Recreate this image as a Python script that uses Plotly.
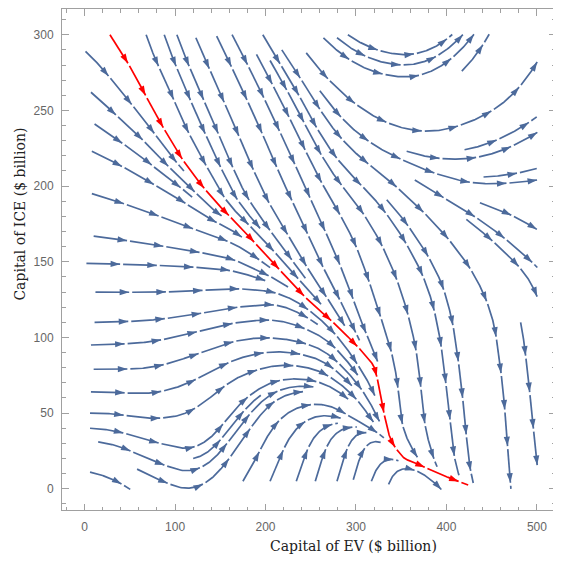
import numpy as np
import plotly.graph_objects as go

# ---------------- data ----------------
EV_GRID = [0, 50, 100, 150, 200, 250, 300, 350, 400, 450, 500]
ICE_GRID = [0, 25, 50, 75, 100, 125, 150, 175, 200, 225, 250, 275, 300]
# flow direction (degrees, in data units) at each grid node, one row per ICE_GRID value
FLOW_DIR = [
    [-8, -22, -12, 35, 54, 68, 68, 60, -40, -84, -80],      # ICE = 0
    [-2, -15, -10, 35, 52, 57, 60, -35, -78, -84, -80],     # 25
    [1, -5, 8, 36, 35, 8, -30, -82, -79, -84, -80],         # 50
    [0, 0, 12, 20, 10, -8, -38, -80, -79, -78, -80],        # 75
    [1, 2, 8, 10, 0, -12, -50, -68, -76, -76, -78],         # 100
    [0, 0, 2, 5, 2, -30, -62, -63, -65, -55, -60],          # 125
    [-1, -1, -2, -5, -25, -50, -60, -52, -45, -35, -28],    # 150
    [-6, -8, -12, -16, -40, -55, -46, -40, -30, -22, -19],  # 175
    [-10, -15, -22, -50, -53, -53, -31, -27, -14, 0, 3],    # 200
    [-15, -22, -43, -55, -55, -50, -28, -11, 3, 12, 18],    # 225
    [-23, -34, -55, -54, -52, -48, -25, -8, 12, 20, 25],    # 250
    [-26, -45, -55, -53, -49, -39, -18, -1, 23, 45, 40],    # 275
    [-29, -62, -60, -50, -45, -35, -20, -3, 25, 48, 60],    # 300
]

# starting points of the blue stream lines
SEED_EV = [1, 7, 11, 8, 8, 10, 2, 12, 11, 7, 10, 7, 6, 6, 15, 6, 58, 120,
           175, 205, 234, 255, 279, 297, 317, 336,
           68, 88, 102, 123, 146, 163, 197, 190, 205, 218, 238, 245, 264, 279, 291,
           260, 293, 315, 334, 356, 365, 382, 385, 417, 420, 422, 437, 441,
           448, 470, 482]
SEED_ICE = [289, 262, 241, 223, 195, 167, 149, 130, 110, 95, 79, 64, 50, 40, 31, 11, 13, 20,
            5, 5, 5, 5, 5, 6, 5, 3,
            300, 300, 300, 298, 299, 300, 300, 287, 283, 290, 272, 288, 298, 298, 300,
            263, 222, 228, 191, 223, 204, 180, 239, 276, 224, 178, 189, 206,
            165, 152, 110]

# highlighted trajectory (red)
RED_EV = [28, 52, 80, 109, 140, 175, 209, 245, 280, 315, 323, 332, 339, 352, 363, 396, 424]
RED_ICE = [300, 277, 246, 217, 193, 171, 149, 126, 107, 85, 74, 47, 32, 21, 17.7, 9, 2.5]

X_TICKS = [0, 100, 200, 300, 400, 500]
Y_TICKS = [0, 50, 100, 150, 200, 250, 300]

# ---------------- layout geometry ----------------
# the page body adds an 8 px offset, so the figure is drawn 553 px wide
W = H = 553
ML, MR, MT, MB = 54, 6, 1, 51
X_RANGE = [-25, 520]
Y_RANGE = [-14, 317]
SX = (W - ML - MR) / (X_RANGE[1] - X_RANGE[0])
SY = (H - MT - MB) / (Y_RANGE[1] - Y_RANGE[0])

BLUE = "rgb(76,106,155)"
RED = "rgb(255,0,0)"

EVg = np.array(EV_GRID, float)
ICg = np.array(ICE_GRID, float)
ANG = np.radians(np.array(FLOW_DIR, float))
CC, SS = np.cos(ANG), np.sin(ANG)


def direction(x, y):
    i = int(np.clip(np.searchsorted(EVg, x) - 1, 0, len(EVg) - 2))
    j = int(np.clip(np.searchsorted(ICg, y) - 1, 0, len(ICg) - 2))
    tx = min(max((x - EVg[i]) / (EVg[i + 1] - EVg[i]), 0), 1)
    ty = min(max((y - ICg[j]) / (ICg[j + 1] - ICg[j]), 0), 1)
    w = [(1 - tx) * (1 - ty), tx * (1 - ty), (1 - tx) * ty, tx * ty]
    c = w[0] * CC[j, i] + w[1] * CC[j, i + 1] + w[2] * CC[j + 1, i] + w[3] * CC[j + 1, i + 1]
    s = w[0] * SS[j, i] + w[1] * SS[j, i + 1] + w[2] * SS[j + 1, i] + w[3] * SS[j + 1, i + 1]
    vx, vy = c * SX, s * SY
    n = np.hypot(vx, vy) + 1e-12
    return vx / n, vy / n


D = 5.5
cells = {}


def near(px, py):
    ci, cj = int(px // D), int(py // D)
    for a in (ci - 1, ci, ci + 1):
        for b in (cj - 1, cj, cj + 1):
            for (qx, qy) in cells.get((a, b), ()):
                if (qx - px) ** 2 + (qy - py) ** 2 < D * D:
                    return True
    return False


def add(path):
    for (px, py) in path:
        cells.setdefault((int(px // D), int(py // D)), []).append((px, py))


def trace(x0, y0, max_len=1200):
    x0 = min(max(x0, 0), 500)
    y0 = min(max(y0, 0), 300)
    px, py = x0 * SX, y0 * SY
    path = [(px, py)]
    if near(px, py):
        return path
    for _ in range(max_len):
        d1 = direction(px / SX, py / SY)
        mx, my = px + 0.5 * d1[0], py + 0.5 * d1[1]
        d2 = direction(mx / SX, my / SY)
        px += d2[0]
        py += d2[1]
        x, y = px / SX, py / SY
        if x < -0.5 or x > 500.5 or y < -0.5 or y > 300.5:
            break
        if near(px, py):
            break
        path.append((px, py))
    return path


SEG, GAP = 36.7, 3.0


def pieces(path):
    p = np.array(path)
    if len(p) < 3:
        return [], [], [], [], []
    ds = np.hypot(np.diff(p[:, 0]), np.diff(p[:, 1]))
    s = np.concatenate([[0], np.cumsum(ds)])
    total = s[-1]
    lx, ly, ax, ay, aang = [], [], [], [], []
    k = 0
    while k * SEG < total:
        a = k * SEG
        full_end = (k + 1) * SEG - GAP
        b = min(full_end, total)
        if b - a < 1.5:
            break
        inside = (s > a) & (s < b)
        ss = np.concatenate([[a], s[inside], [b]])
        xs = np.interp(ss, s, p[:, 0])
        ys = np.interp(ss, s, p[:, 1])
        lx += list(xs / SX) + [None]
        ly += list(ys / SY) + [None]
        if full_end <= total or (b - a) > 0.6 * SEG:
            bx, by = np.interp(b, s, p[:, 0]), np.interp(b, s, p[:, 1])
            cx, cy = np.interp(b - 3, s, p[:, 0]), np.interp(b - 3, s, p[:, 1])
            ax.append(bx / SX)
            ay.append(by / SY)
            aang.append(np.degrees(np.arctan2(bx - cx, by - cy)))
        k += 1
    return lx, ly, ax, ay, aang


# red trajectory, densified (Catmull-Rom through the read points) in pixel space
rp = np.column_stack([np.array(RED_EV) * SX, np.array(RED_ICE) * SY])
ext = np.vstack([2 * rp[0] - rp[1], rp, 2 * rp[-1] - rp[-2]])
red_path = []
for i in range(1, len(ext) - 2):
    p0, p1, p2, p3 = ext[i - 1], ext[i], ext[i + 1], ext[i + 2]
    for t in np.linspace(0, 1, 25, endpoint=False):
        t2, t3 = t * t, t * t * t
        q = 0.5 * ((2 * p1) + (-p0 + p2) * t + (2 * p0 - 5 * p1 + 4 * p2 - p3) * t2 + (-p0 + 3 * p1 - 3 * p2 + p3) * t3)
        red_path.append((q[0], q[1]))
red_path.append((rp[-1][0], rp[-1][1]))
add(red_path)

BLX, BLY, BAX, BAY, BAA = [], [], [], [], []
for x0, y0 in zip(SEED_EV, SEED_ICE):
    path = trace(x0, y0)
    if len(path) < 10:
        continue
    add(path)
    lx, ly, ax, ay, aa = pieces(path)
    BLX += lx
    BLY += ly
    BAX += ax
    BAY += ay
    BAA += aa

RLX, RLY, RAX, RAY, RAA = pieces(red_path)

fig = go.Figure()
fig.add_trace(go.Scatter(x=BLX, y=BLY, mode="lines", line=dict(color=BLUE, width=1.7),
                         hoverinfo="skip", showlegend=False))
fig.add_trace(go.Scatter(x=BAX, y=BAY, mode="markers",
                         marker=dict(symbol="arrow", size=10, angle=BAA, color=BLUE, line=dict(width=0)),
                         hoverinfo="skip", showlegend=False))
fig.add_trace(go.Scatter(x=RLX, y=RLY, mode="lines", line=dict(color=RED, width=1.7),
                         hoverinfo="skip", showlegend=False))
fig.add_trace(go.Scatter(x=RAX, y=RAY, mode="markers",
                         marker=dict(symbol="arrow", size=10, angle=RAA, color=RED, line=dict(width=0)),
                         hoverinfo="skip", showlegend=False))

FRAME = "#a0a0a0"
axis_common = dict(showline=True, linecolor=FRAME, linewidth=1, mirror="allticks",
                   ticks="inside", tickcolor=FRAME, tickwidth=1, showgrid=False, zeroline=False,
                   automargin=False,
                   tickfont=dict(family="Liberation Sans", size=12, color="#666666"))
fig.update_xaxes(range=X_RANGE, tickvals=X_TICKS, ticklen=6.5, ticklabelstandoff=6,
                 minor=dict(ticks="inside", ticklen=3.5, dtick=20, tick0=0, tickcolor=FRAME, showgrid=False),
                 **axis_common)
fig.update_yaxes(range=Y_RANGE, tickvals=Y_TICKS, ticklen=6.5, ticklabelstandoff=5,
                 minor=dict(ticks="inside", ticklen=3.5, dtick=10, tick0=0, tickcolor=FRAME, showgrid=False),
                 **axis_common)

fig.update_layout(
    width=W, height=H, margin=dict(l=ML, r=MR, t=MT, b=MB, autoexpand=False),
    paper_bgcolor="white", plot_bgcolor="white",
    annotations=[
        dict(text="Capital of EV ($ billion)", xref="paper", yref="paper", x=0.592, y=-0.072,
             showarrow=False, xanchor="center", yanchor="middle",
             font=dict(family="DejaVu Serif", size=14, color="#222222")),
        dict(text="Capital of ICE ($ billion)", xref="paper", yref="paper", x=-0.0858, y=0.591,
             showarrow=False, xanchor="center", yanchor="middle", textangle=-90,
             font=dict(family="DejaVu Serif", size=14, color="#222222")),
    ],
)
fig.write_html("out.html")
